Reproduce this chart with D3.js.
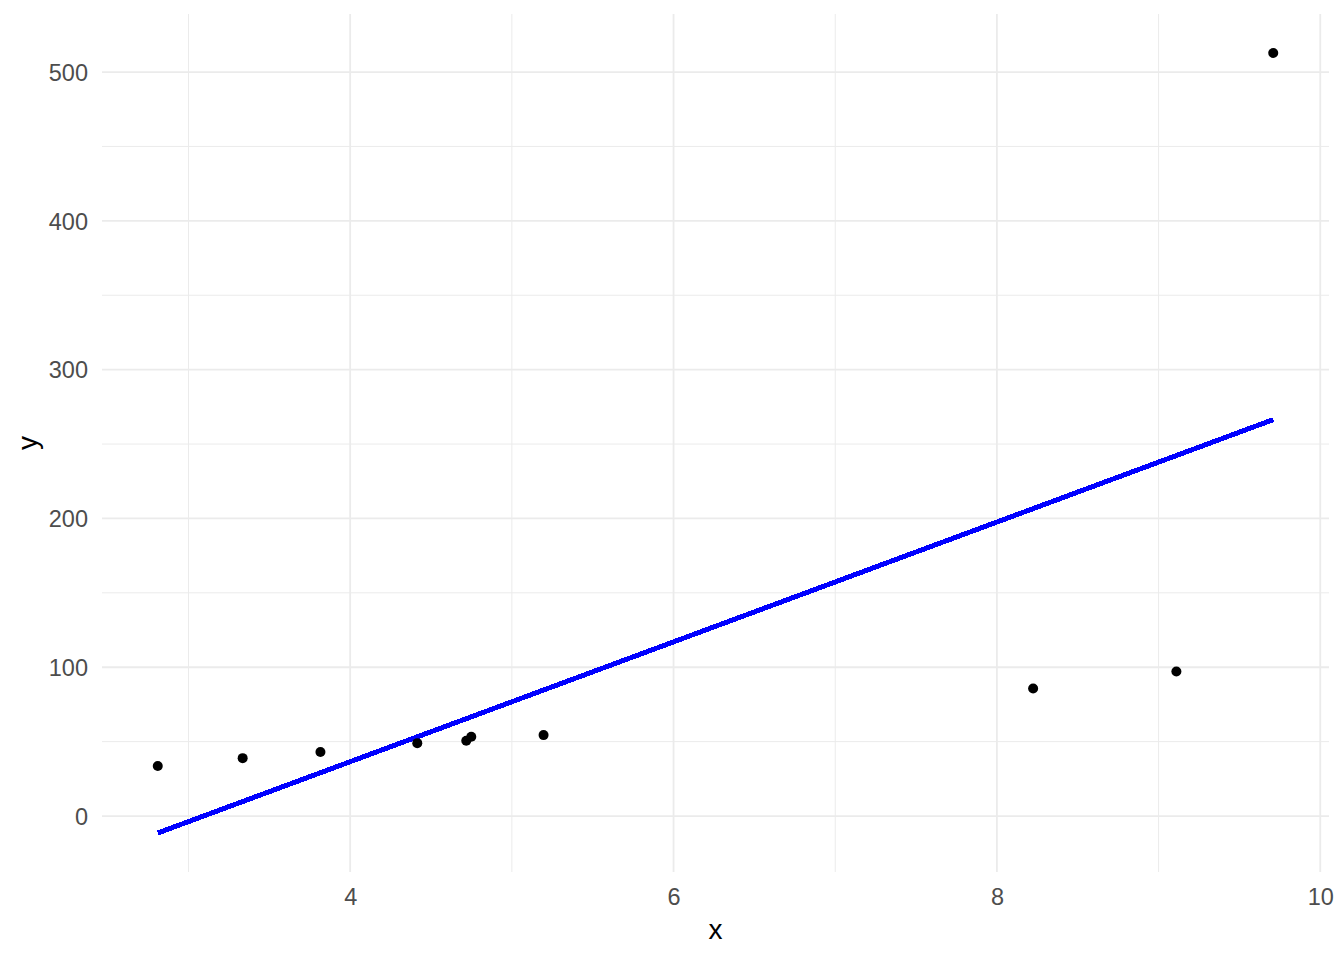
<!DOCTYPE html>
<html>
<head>
<meta charset="utf-8">
<script src="https://cdn.jsdelivr.net/npm/d3@7"></script>
<style>
  html, body { margin: 0; padding: 0; background: #ffffff; }
  svg { display: block; }
  text { font-family: "Liberation Sans", Arial, sans-serif; }
</style>
</head>
<body>
<script>
// ---- data ----
const pointX = [2.810, 3.335, 3.816, 4.415, 4.718, 4.749, 5.196, 8.224, 9.110, 9.709];
const pointY = [33.6, 38.9, 43.0, 49.0, 50.6, 53.3, 54.4, 85.7, 97.1, 512.8];
const fitX = [2.810, 9.709];
const fitY = [-11.4, 266.4];
const xTicks = [4, 6, 8, 10];
const xMinor = [3, 5, 7, 9];
const yTicks = [0, 100, 200, 300, 400, 500];
const yMinor = [50, 150, 250, 350, 450];
const xTitle = "x";
const yTitle = "y";

const W = 1344, H = 960;
const panel = { left: 102, right: 1329, top: 14, bottom: 872 };

const svg = d3.select("body").append("svg").attr("width", W).attr("height", H);

function expand(ext, f) { const d = ext[1] - ext[0]; return [ext[0] - d * f, ext[1] + d * f]; }
const xExt = d3.extent(pointX.concat(fitX));
const yExt = d3.extent(pointY.concat(fitY));

const x = d3.scaleLinear().domain(expand(xExt, 0.05)).range([panel.left, panel.right]);
const y = d3.scaleLinear().domain(expand(yExt, 0.05)).range([panel.bottom, panel.top]);

const grid = svg.append("g");
// minor gridlines
grid.selectAll("line.xmin").data(xMinor).join("line")
  .attr("x1", d => x(d)).attr("x2", d => x(d))
  .attr("y1", panel.top).attr("y2", panel.bottom)
  .attr("stroke", "#EBEBEB").attr("stroke-width", 1);
grid.selectAll("line.ymin").data(yMinor).join("line")
  .attr("y1", d => y(d)).attr("y2", d => y(d))
  .attr("x1", panel.left).attr("x2", panel.right)
  .attr("stroke", "#EBEBEB").attr("stroke-width", 1);
// major gridlines
grid.selectAll("line.xmaj").data(xTicks).join("line")
  .attr("x1", d => x(d)).attr("x2", d => x(d))
  .attr("y1", panel.top).attr("y2", panel.bottom)
  .attr("stroke", "#EBEBEB").attr("stroke-width", 1.8);
grid.selectAll("line.ymaj").data(yTicks).join("line")
  .attr("y1", d => y(d)).attr("y2", d => y(d))
  .attr("x1", panel.left).attr("x2", panel.right)
  .attr("stroke", "#EBEBEB").attr("stroke-width", 1.8);

// axes (labels only)
const xAxis = d3.axisBottom(x).tickValues(xTicks).tickSize(0).tickPadding(0).tickFormat(d3.format("d"));
const gx = svg.append("g").attr("transform", `translate(0,${panel.bottom})`).call(xAxis);
gx.select(".domain").remove();
gx.selectAll("text").attr("dy", null).attr("y", 33)
  .attr("font-size", "23.5px").attr("fill", "#4D4D4D")
  .attr("font-family", "'Liberation Sans', Arial, sans-serif");

const yAxis = d3.axisLeft(y).tickValues(yTicks).tickSize(0).tickPadding(0).tickFormat(d3.format("d"));
const gy = svg.append("g").attr("transform", `translate(${panel.left},0)`).call(yAxis);
gy.select(".domain").remove();
gy.selectAll("text").attr("x", -14).attr("dy", "0.35em")
  .attr("font-size", "23.5px").attr("fill", "#4D4D4D")
  .attr("font-family", "'Liberation Sans', Arial, sans-serif");

// fitted line
const fitData = fitX.map((v, i) => [v, fitY[i]]);
svg.append("path").datum(fitData)
  .attr("d", d3.line().x(d => x(d[0])).y(d => y(d[1])))
  .attr("fill", "none").attr("stroke", "#0000FF").attr("stroke-width", 5)
  .attr("shape-rendering", "crispEdges");

// points
const pts = pointX.map((v, i) => [v, pointY[i]]);
svg.append("g").selectAll("circle").data(pts).join("circle")
  .attr("cx", d => x(d[0])).attr("cy", d => y(d[1])).attr("r", 5)
  .attr("fill", "#000000");

// axis titles
svg.append("text").attr("x", (panel.left + panel.right) / 2).attr("y", 939)
  .attr("text-anchor", "middle").attr("font-size", "28px").attr("fill", "#000")
  .text(xTitle);
svg.append("text")
  .attr("transform", `translate(36.5,${(panel.top + panel.bottom) / 2}) rotate(-90)`)
  .attr("text-anchor", "middle").attr("font-size", "28px").attr("fill", "#000")
  .text(yTitle);
</script>
</body>
</html>
